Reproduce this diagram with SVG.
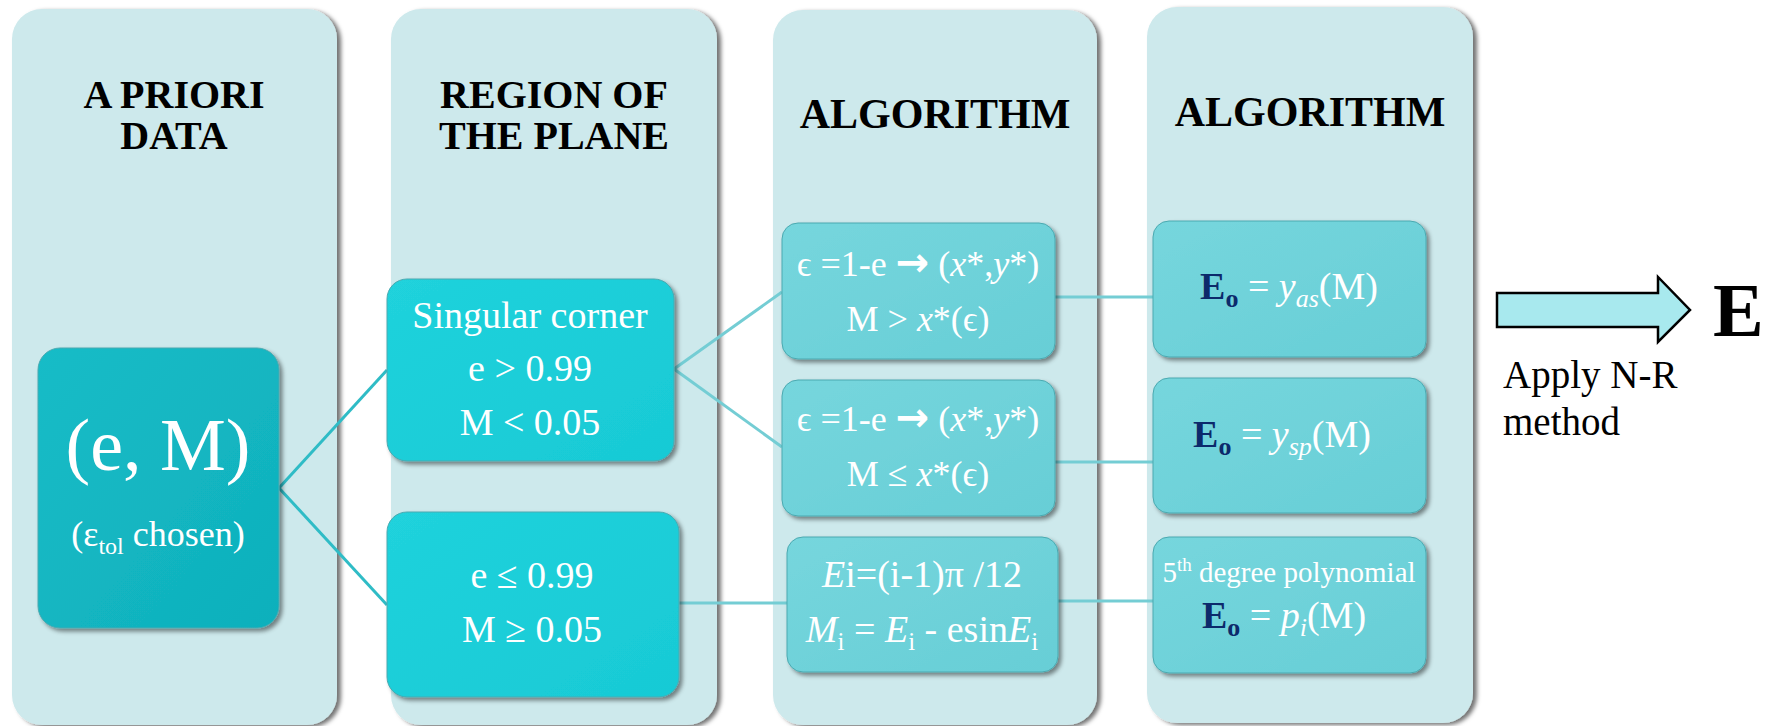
<svg xmlns="http://www.w3.org/2000/svg" width="1785" height="726" viewBox="0 0 1785 726">
<defs>
<filter id="pshadow" x="-5%" y="-5%" width="115%" height="115%">
<feDropShadow dx="4" dy="2" stdDeviation="2" flood-color="#000" flood-opacity="0.55"/>
</filter>
<filter id="nshadow" x="-10%" y="-10%" width="125%" height="125%">
<feDropShadow dx="3" dy="3" stdDeviation="2" flood-color="#000" flood-opacity="0.45"/>
</filter>
<linearGradient id="gEM" x1="0" y1="0" x2="1" y2="1">
<stop offset="0" stop-color="#16bcc7"/>
<stop offset="1" stop-color="#0fb0bc"/>
</linearGradient>
<linearGradient id="gR" x1="0" y1="0" x2="1" y2="1">
<stop offset="0" stop-color="#20d2dc"/>
<stop offset="1" stop-color="#18cad5"/>
</linearGradient>
<linearGradient id="gA" x1="0" y1="0" x2="1" y2="1">
<stop offset="0" stop-color="#76d6dd"/>
<stop offset="1" stop-color="#67ced6"/>
</linearGradient>
<style>
.panel{fill:#cde9ec;filter:url(#pshadow);}
.head{font-family:"Liberation Serif","Times New Roman",serif;font-weight:bold;fill:#000;text-anchor:middle;}
.node{filter:url(#nshadow);stroke:#4aa9b0;stroke-width:1;}
.em{fill:url(#gEM);}
.rg{fill:url(#gR);}
.al{fill:url(#gA);}
.t{font-family:"Liberation Serif","Times New Roman","DejaVu Serif",serif;fill:#fff;text-anchor:middle;}
.it{font-style:italic;}
.arr{font-family:"DejaVu Sans",sans-serif;font-weight:bold;font-size:40px;}
.navy{fill:#0c2a6b;font-weight:bold;}
.c1{stroke:#2fbcc6;stroke-width:3;fill:none;}
.c2{stroke:#74cdd4;stroke-width:3;fill:none;}
.blk{font-family:"Liberation Serif","Times New Roman",serif;fill:#000;}
</style>
</defs>
<rect width="1785" height="726" fill="#fff"/>

<g id="panel-apriori">
<rect class="panel" x="12" y="9" width="325" height="716" rx="30"/>
<text class="head" x="174" y="108" font-size="40">A PRIORI</text>
<text class="head" x="174" y="149" font-size="40">DATA</text>
</g>
<g id="panel-region">
<rect class="panel" x="391" y="9" width="326" height="716" rx="30"/>
<text class="head" x="554" y="108" font-size="40">REGION OF</text>
<text class="head" x="554" y="149" font-size="40">THE PLANE</text>
</g>
<g id="panel-algorithm1">
<rect class="panel" x="773" y="10" width="324" height="715" rx="30"/>
<text class="head" x="935" y="128" font-size="42">ALGORITHM</text>
</g>
<g id="panel-algorithm2">
<rect class="panel" x="1147" y="7" width="326" height="716" rx="30"/>
<text class="head" x="1310" y="126" font-size="42">ALGORITHM</text>
</g>

<g id="connectors">
<path class="c1" d="M279,488 L387,370"/>
<path class="c1" d="M279,488 L387,605"/>
<path class="c2" d="M674,369 L782,292"/>
<path class="c2" d="M674,369 L782,447"/>
<path class="c2" d="M679,603 L787,603"/>
<path class="c2" d="M1055,297 L1153,297"/>
<path class="c2" d="M1047,462 L1153,462"/>
<path class="c2" d="M1058,601 L1153,601"/>
</g>

<g id="node-eM">
<rect class="node em" x="38" y="348" width="241" height="280" rx="22"/>
<text class="t" x="158" y="470" font-size="74">(e, M)</text>
<text class="t" x="158" y="546" font-size="36">(ε<tspan font-size="24" dy="8">tol</tspan><tspan dy="-8"> chosen)</tspan></text>
</g>

<g id="node-singular">
<rect class="node rg" x="387" y="279" width="287" height="182" rx="20"/>
<text class="t" x="530" y="328" font-size="38">Singular corner</text>
<text class="t" x="530" y="381" font-size="38">e &gt; 0.99</text>
<text class="t" x="530" y="435" font-size="38">M &lt; 0.05</text>
</g>

<g id="node-regular">
<rect class="node rg" x="387" y="512" width="292" height="185" rx="20"/>
<text class="t" x="532" y="588" font-size="38">e ≤ 0.99</text>
<text class="t" x="532" y="642" font-size="38">M ≥ 0.05</text>
</g>

<g id="node-alg1">
<rect class="node al" x="782" y="223" width="273" height="136" rx="16"/>
<text class="t" x="918" y="276" font-size="36">ϵ =1-e <tspan class="arr">→</tspan> (<tspan class="it">x</tspan>*,<tspan class="it">y</tspan>*)</text>
<text class="t" x="918" y="331" font-size="36">M &gt; <tspan class="it">x</tspan>*(ϵ)</text>
</g>

<g id="node-alg2">
<rect class="node al" x="782" y="380" width="273" height="136" rx="16"/>
<text class="t" x="918" y="431" font-size="36">ϵ =1-e <tspan class="arr">→</tspan> (<tspan class="it">x</tspan>*,<tspan class="it">y</tspan>*)</text>
<text class="t" x="918" y="486" font-size="36">M ≤ <tspan class="it">x</tspan>*(ϵ)</text>
</g>

<g id="node-alg3">
<rect class="node al" x="787" y="537" width="271" height="135" rx="16"/>
<text class="t" x="922" y="587" font-size="38"><tspan class="it">E</tspan>i=(i-1)π /12</text>
<text class="t" x="922" y="642" font-size="38"><tspan class="it">M</tspan><tspan font-size="25" dy="8">i</tspan><tspan dy="-8"> = </tspan><tspan class="it">E</tspan><tspan font-size="25" dy="8">i</tspan><tspan dy="-8"> - esin</tspan><tspan class="it">E</tspan><tspan font-size="25" dy="8">i</tspan></text>
</g>

<g id="node-yas">
<rect class="node al" x="1153" y="221" width="273" height="136" rx="16"/>
<text class="t" x="1289" y="299" font-size="38"><tspan class="navy">E</tspan><tspan class="navy" font-size="26" dy="8">o</tspan><tspan dy="-8"> = </tspan><tspan class="it">y</tspan><tspan class="it" font-size="26" dy="8">as</tspan><tspan dy="-8">(M)</tspan></text>
</g>

<g id="node-ysp">
<rect class="node al" x="1153" y="378" width="273" height="135" rx="16"/>
<text class="t" x="1282" y="447" font-size="38"><tspan class="navy">E</tspan><tspan class="navy" font-size="26" dy="8">o</tspan><tspan dy="-8"> = </tspan><tspan class="it">y</tspan><tspan class="it" font-size="26" dy="8">sp</tspan><tspan dy="-8">(M)</tspan></text>
</g>

<g id="node-poly">
<rect class="node al" x="1153" y="537" width="273" height="136" rx="16"/>
<text class="t" x="1289" y="582" font-size="29">5<tspan font-size="19" dy="-11">th</tspan><tspan dy="11"> degree polynomial</tspan></text>
<text class="t" x="1284" y="628" font-size="38"><tspan class="navy">E</tspan><tspan class="navy" font-size="26" dy="8">o</tspan><tspan dy="-8"> = </tspan><tspan class="it">p</tspan><tspan class="it" font-size="26" dy="8">i</tspan><tspan dy="-8">(M)</tspan></text>
</g>

<g id="node-result">
<polygon points="1497,293 1658,293 1658,277 1690,310 1658,342 1658,327 1497,327" fill="#a8e9ee" stroke="#000" stroke-width="2.5" stroke-linejoin="miter"/>
<text class="blk" x="1713" y="336" font-weight="bold" font-size="76">E</text>
<text class="blk" x="1503" y="388" font-size="39">Apply N-R</text>
<text class="blk" x="1503" y="435" font-size="39">method</text>
</g>
</svg>
